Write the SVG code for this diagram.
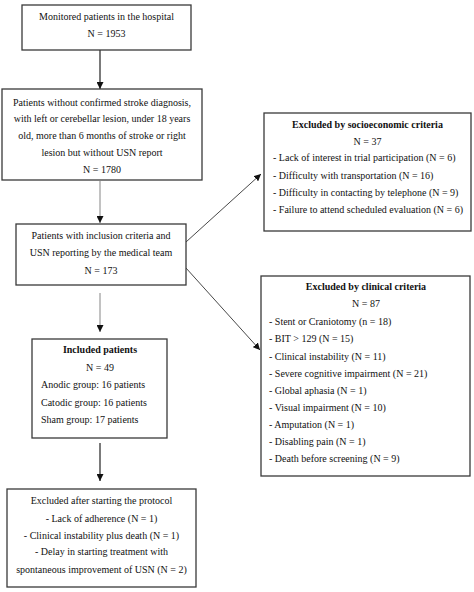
<svg xmlns="http://www.w3.org/2000/svg" width="474" height="592" viewBox="0 0 474 592">
<defs>
<style>
.box{fill:#fff;stroke:#3a3a3a;stroke-width:1.3}
text{font-family:"Liberation Serif","Times New Roman",serif;font-size:10px;fill:#111}
.c{text-anchor:middle}
.b{font-weight:bold}
.ln{stroke:#222;stroke-width:1.2;fill:none}
.lg{stroke:#999;stroke-width:1.2;fill:none}
.ld{stroke:#333;stroke-width:0.9;fill:none}
</style>
<marker id="ah" viewBox="0 0 10 10" refX="10" refY="5" markerWidth="7" markerHeight="7" markerUnits="userSpaceOnUse" orient="auto">
<path d="M0,0 L10,5 L0,10 z" fill="#111"/>
</marker>
</defs>
<rect width="474" height="592" fill="#fff"/>
<g id="connectors">
<line class="ln" x1="100" y1="50" x2="100" y2="89" marker-end="url(#ah)"/>
<line class="lg" x1="100" y1="181" x2="100" y2="223" marker-end="url(#ah)"/>
<line class="lg" x1="100" y1="293" x2="100" y2="332" marker-end="url(#ah)"/>
<line class="ln" x1="100" y1="443" x2="100" y2="481" marker-end="url(#ah)"/>
<line class="ld" x1="186" y1="242" x2="261" y2="174" marker-end="url(#ah)"/>
<line class="ld" x1="186" y1="268" x2="260" y2="350" marker-end="url(#ah)"/>
</g>
<g id="n1">
<rect class="box" x="22" y="5" width="169" height="45"/>
<text class="c" x="106.5" y="19.5">Monitored patients in the hospital</text>
<text class="c" x="106.5" y="36.5">N = 1953</text>
</g>
<g id="n2">
<rect class="box" x="2" y="89" width="200" height="91"/>
<text class="c" x="102" y="105.5">Patients without confirmed stroke diagnosis,</text>
<text class="c" x="102" y="122">with left or cerebellar lesion, under 18 years</text>
<text class="c" x="102" y="138.5">old, more than 6 months of stroke or right</text>
<text class="c" x="102" y="155.5">lesion but without USN report</text>
<text class="c" x="102" y="172.5">N = 1780</text>
</g>
<g id="n3">
<rect class="box" x="16" y="224" width="170" height="61"/>
<text class="c" x="101" y="238.5">Patients with inclusion criteria and</text>
<text class="c" x="101" y="255.5">USN reporting by the medical team</text>
<text class="c" x="101" y="273.5">N = 173</text>
</g>
<g id="n4">
<rect class="box" x="32" y="339" width="135" height="99"/>
<text class="c b" x="100" y="352.5">Included patients</text>
<text class="c" x="100" y="370.5">N = 49</text>
<text x="41" y="387.5">Anodic group: 16 patients</text>
<text x="41" y="405.5">Catodic group: 16 patients</text>
<text x="41" y="422.5">Sham group: 17 patients</text>
</g>
<g id="n5">
<rect class="box" x="7" y="489" width="189" height="98"/>
<text class="c" x="101.5" y="503.5">Excluded after starting the protocol</text>
<text class="c" x="101.5" y="521.5">- Lack of adherence (N = 1)</text>
<text class="c" x="101.5" y="538.5">- Clinical instability plus death (N = 1)</text>
<text class="c" x="101.5" y="554.5">- Delay in starting treatment with</text>
<text class="c" x="101.5" y="572.5">spontaneous improvement of USN (N = 2)</text>
</g>
<g id="n6">
<rect class="box" x="264" y="113" width="207" height="118"/>
<text class="c b" x="367.5" y="127.5">Excluded by socioeconomic criteria</text>
<text class="c" x="367.5" y="144.5">N = 37</text>
<text x="273" y="161">- Lack of interest in trial participation (N = 6)</text>
<text x="273" y="178.5">- Difficulty with transportation (N = 16)</text>
<text x="273" y="195.5">- Difficulty in contacting by telephone (N = 9)</text>
<text x="273" y="212.5">- Failure to attend scheduled evaluation (N = 6)</text>
</g>
<g id="n7">
<rect class="box" x="261" y="276" width="209" height="200"/>
<text class="c b" x="366" y="289.5">Excluded by clinical criteria</text>
<text class="c" x="366" y="306.5">N = 87</text>
<text x="269" y="324.5">- Stent or Craniotomy (n = 18)</text>
<text x="269" y="341.5">- BIT &gt; 129 (N = 15)</text>
<text x="269" y="359.5">- Clinical instability (N = 11)</text>
<text x="269" y="376.5">- Severe cognitive impairment (N = 21)</text>
<text x="269" y="393.5">- Global aphasia (N = 1)</text>
<text x="269" y="410.5">- Visual impairment (N = 10)</text>
<text x="269" y="427.5">- Amputation (N = 1)</text>
<text x="269" y="445">- Disabling pain (N = 1)</text>
<text x="269" y="462">- Death before screening (N = 9)</text>
</g>
</svg>
